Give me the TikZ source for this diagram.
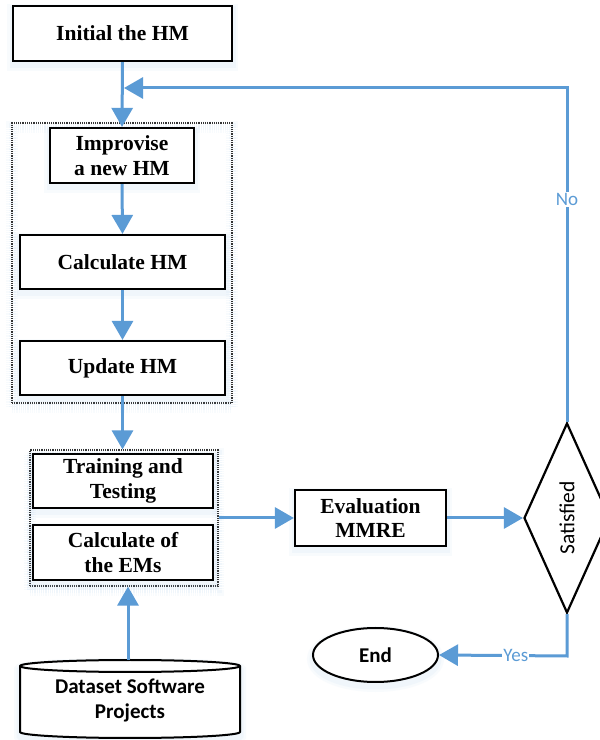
\documentclass[tikz,border=0pt]{standalone}
\usepackage{fontspec}
\setmainfont{Liberation Serif}
\newfontfamily\sansf{Carlito}
\usetikzlibrary{arrows.meta,shapes.geometric}
\definecolor{flowblue}{RGB}{91,155,213}
\definecolor{glowblue}{RGB}{150,190,235}
\begin{document}
\begin{tikzpicture}[x=1pt,y=1pt,
  glow/.style={preaction={draw=glowblue, line width=12pt, opacity=0.06, transform canvas={yshift=-4pt}},
               preaction={draw=glowblue, line width=7pt, opacity=0.08, transform canvas={yshift=-4pt}}},
  procbox/.style={draw=black, line width=2.2pt, fill=white, align=center, inner sep=0pt,
                  font=\bfseries\fontsize{21.5}{24.5}\selectfont, glow},
  groupbox/.style={draw=black!80, densely dotted, line width=1.2pt, inner sep=0pt, glow},
  flow/.style={draw=flowblue, line width=3pt, -{Triangle[length=19pt,width=21pt]}},
  lbl/.style={fill=white, text=flowblue, inner sep=1pt, font=\sansf\fontsize{19}{19}\selectfont}
]
\useasboundingbox (0,0) rectangle (600,740);
\fill[white] (0,0) rectangle (600,740);

% groups
\node[groupbox, minimum width=220pt, minimum height=280pt] (g1) at (122,477) {};
\node[groupbox, minimum width=188pt, minimum height=136pt] (g2) at (124,222) {};

% process boxes
\node[procbox, minimum width=219pt, minimum height=55pt] (init) at (122.5,706.5) {Initial the HM};
\node[procbox, minimum width=144pt, minimum height=55pt] (impr) at (122,584.5) {Improvise\\a new HM};
\node[procbox, minimum width=205pt, minimum height=54pt] (calc) at (122.5,478) {Calculate HM};
\node[procbox, minimum width=205pt, minimum height=54pt] (upd) at (122.5,372) {Update HM};
\node[procbox, minimum width=180pt, minimum height=54pt] (train) at (123,259) {Training and\\Testing};
\node[procbox, minimum width=180pt, minimum height=55pt] (cem) at (123,187.5) {Calculate of\\the EMs};
\node[procbox, minimum width=151pt, minimum height=56pt] (eval) at (370.5,222) {Evaluation\\MMRE};

% decision
\node[draw=black, line width=2.2pt, fill=white, diamond, inner sep=0pt, aspect=0.45,
      minimum width=86pt, minimum height=190pt] (sat) at (567,222)
      {\rotatebox{90}{\sansf\fontsize{21.5}{21.5}\selectfont Satisfied}};

% end
\node[ellipse, draw=black, line width=2pt, fill=white, minimum width=125pt, minimum height=54pt,
      font=\sansf\bfseries\fontsize{21}{24}\selectfont, glow] (end) at (375.5,85) {End};

% dataset cylinder
\draw[line width=2pt, fill=white, glow] (20,74) -- (20,8)
   arc[start angle=180, end angle=360, x radius=110, y radius=6] -- (240,74)
   arc[start angle=0, end angle=180, x radius=110, y radius=6] -- cycle;
\draw[line width=2pt] (20,74) arc[start angle=180, end angle=360, x radius=110, y radius=6];
\node[font=\sansf\bfseries\fontsize{21}{25}\selectfont, align=center] (ds) at (130,40) {Dataset Software\\Projects};
\coordinate (dstop) at (128,80);

% connectors
\coordinate (fb) at (124,652);
\coordinate (nocorner) at (567,652);
\coordinate (yescorner) at (567,84);
\draw[flow] (init.south) -- (impr.north);
\draw[flow] (impr.south) -- (calc.north);
\draw[flow] (calc.south) -- (upd.north);
\draw[flow] (upd.south) -- (upd.south |- g2.north);
\draw[flow] (dstop) -- (dstop |- g2.south);
\draw[flow] (g2.east) -- (eval.west);
\draw[flow] (eval.east) -- (sat.west);
\draw[flow] (sat.north) -- node[lbl, pos=0.666] {No} (nocorner) -- (fb);
\draw[flow] (sat.south) -- (yescorner) -- node[lbl, pos=0.40] {Yes} (end.east);
\end{tikzpicture}
\end{document}
